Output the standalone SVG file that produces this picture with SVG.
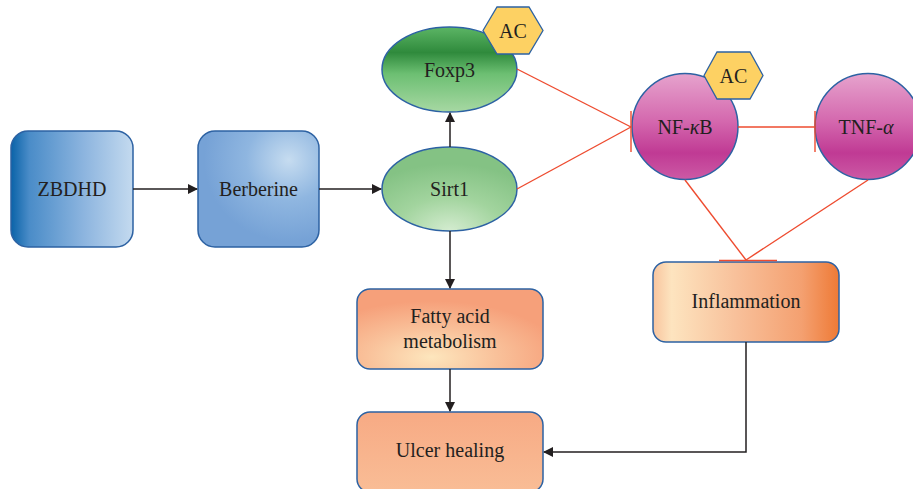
<svg xmlns="http://www.w3.org/2000/svg" width="913" height="489" viewBox="0 0 913 489">
<defs>
<linearGradient id="gZ" x1="0" y1="0" x2="1" y2="0">
<stop offset="0" stop-color="#0a63a8"/><stop offset="0.15" stop-color="#4a8cc8"/><stop offset="0.6" stop-color="#8db5df"/><stop offset="1" stop-color="#c4daef"/>
</linearGradient>
<radialGradient id="gB" cx="0.75" cy="0.25" r="0.7">
<stop offset="0" stop-color="#c6dcf0"/><stop offset="0.5" stop-color="#8fb6e0"/><stop offset="1" stop-color="#76a2d6"/>
</radialGradient>
<linearGradient id="gF" x1="0" y1="0" x2="0" y2="1">
<stop offset="0" stop-color="#5cb565"/><stop offset="0.3" stop-color="#2f8a3c"/><stop offset="0.55" stop-color="#6cbf72"/><stop offset="1" stop-color="#a7d8a3"/>
</linearGradient>
<radialGradient id="gS" cx="0.5" cy="1" r="0.8">
<stop offset="0" stop-color="#d4ecd0"/><stop offset="0.5" stop-color="#a2d49e"/><stop offset="1" stop-color="#84c284"/>
</radialGradient>
<linearGradient id="gN" x1="0" y1="0" x2="0" y2="1">
<stop offset="0" stop-color="#e6a3cd"/><stop offset="0.45" stop-color="#d468ae"/><stop offset="0.75" stop-color="#c03a94"/><stop offset="1" stop-color="#cc5aa5"/>
</linearGradient>
<radialGradient id="gO" cx="0.4" cy="0.85" r="0.7">
<stop offset="0" stop-color="#fde6bd"/><stop offset="0.5" stop-color="#f9c19a"/><stop offset="1" stop-color="#f6a07a"/>
</radialGradient>
<linearGradient id="gU" x1="0" y1="0" x2="0" y2="1">
<stop offset="0" stop-color="#f7aa84"/><stop offset="1" stop-color="#f9bd96"/>
</linearGradient>
<linearGradient id="gI" x1="0" y1="0" x2="1" y2="0">
<stop offset="0" stop-color="#f8c49e"/><stop offset="0.1" stop-color="#fde4bf"/><stop offset="0.45" stop-color="#f8c09a"/><stop offset="0.8" stop-color="#f4a070"/><stop offset="1" stop-color="#ee7a36"/>
</linearGradient>
<marker id="arr" markerWidth="10" markerHeight="10" refX="9" refY="5" orient="auto" markerUnits="userSpaceOnUse">
<path d="M0,0 L10,5 L0,10 Z" fill="#231f20"/>
</marker>
</defs>
<style>
.box{stroke:#2d62a3;stroke-width:1.5}
.t{font-family:"Liberation Serif",serif;font-size:20px;fill:#231f20;text-anchor:middle;dominant-baseline:central}
.hex{fill:#fdd163;stroke:#2d62a3;stroke-width:1.3}
.blk{stroke:#231f20;stroke-width:1.5;fill:none}
.red{stroke:#ee4b2f;stroke-width:1.4;fill:none}
</style>
<g id="zbdhd"><rect class="box" x="11" y="131" width="122" height="116" rx="17" fill="url(#gZ)"/><text class="t" x="72" y="189">ZBDHD</text></g>
<g id="berberine"><rect class="box" x="198" y="131" width="121" height="116" rx="17" fill="url(#gB)"/><text class="t" x="258.5" y="189">Berberine</text></g>
<g id="foxp3"><ellipse class="box" cx="449.5" cy="69.5" rx="67.5" ry="42.5" fill="url(#gF)"/><text class="t" x="449.5" y="70">Foxp3</text></g>
<g id="ac1"><polygon class="hex" points="483,30.5 497,7 529,7 543,30.5 529,54 497,54"/><text class="t" x="513" y="31">AC</text></g>
<g id="sirt1"><ellipse class="box" cx="449.5" cy="189" rx="67.5" ry="42" fill="url(#gS)"/><text class="t" x="449.5" y="189">Sirt1</text></g>
<g id="nfkb"><circle class="box" cx="685" cy="126.5" r="53" fill="url(#gN)"/><text class="t" x="685" y="127">NF-<tspan font-style="italic">κ</tspan>B</text></g>
<g id="ac2"><polygon class="hex" points="704,75.5 717,52 750,52 763,75.5 750,99 717,99"/><text class="t" x="733.5" y="76">AC</text></g>
<g id="tnfa"><circle class="box" cx="868" cy="126.5" r="53" fill="url(#gN)"/><text class="t" x="866" y="127">TNF-<tspan font-style="italic">α</tspan></text></g>
<g id="inflammation"><rect class="box" x="653" y="262" width="186" height="80" rx="13" fill="url(#gI)"/><text class="t" x="746" y="301">Inflammation</text></g>
<g id="fatty"><rect class="box" x="357" y="289" width="186" height="80" rx="13" fill="url(#gO)"/><text class="t" x="450" y="316">Fatty acid</text><text class="t" x="450" y="341">metabolism</text></g>
<g id="ulcer"><rect class="box" x="357" y="412" width="186" height="80" rx="13" fill="url(#gU)"/><text class="t" x="450" y="450">Ulcer healing</text></g>
<g id="connectors">
<line class="blk" x1="133" y1="189" x2="197" y2="189" marker-end="url(#arr)"/>
<line class="blk" x1="319" y1="189" x2="381" y2="189" marker-end="url(#arr)"/>
<line class="blk" x1="450" y1="147" x2="450" y2="113" marker-end="url(#arr)"/>
<line class="blk" x1="450" y1="231" x2="450" y2="288" marker-end="url(#arr)"/>
<line class="blk" x1="450" y1="369" x2="450" y2="411" marker-end="url(#arr)"/>
<polyline class="blk" points="746,342 746,452 544,452" marker-end="url(#arr)"/>
<line class="red" x1="517" y1="69" x2="631" y2="127"/>
<line class="red" x1="517" y1="189" x2="631" y2="127"/>
<line class="red" x1="631" y1="111" x2="631" y2="152"/>
<line class="red" x1="738" y1="127" x2="815" y2="127"/>
<line class="red" x1="815" y1="111" x2="815" y2="152"/>
<line class="red" x1="685" y1="180" x2="746" y2="260"/>
<line class="red" x1="868" y1="180" x2="746" y2="260"/>
<line class="red" x1="719" y1="260.5" x2="777" y2="260.5" stroke-width="2"/>
</g>
</svg>
